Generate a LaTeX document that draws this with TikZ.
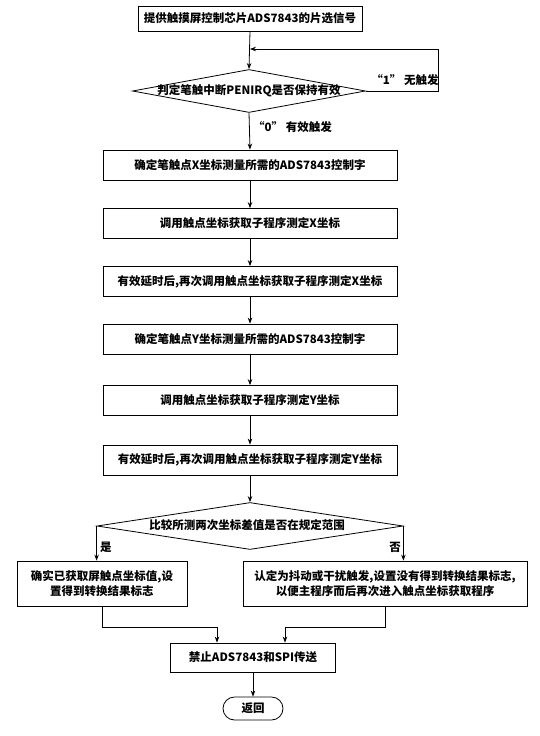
\documentclass[tikz,border=0pt]{standalone}
\usepackage{fontspec}
\newfontfamily\cjk{Noto Sans CJK SC}
\usetikzlibrary{shapes.geometric,arrows.meta}
\begin{document}
\begin{tikzpicture}[x=1pt,y=-1pt,
  every node/.style={font=\cjk\bfseries\fontsize{11.5}{15}\selectfont},
  box/.style={draw, line width=0.8pt, minimum width=294, minimum height=30, inner sep=0pt, align=center},
  dia/.style={draw, diamond, line width=0.8pt, inner sep=0pt},
  term/.style={draw, line width=0.8pt, rounded corners=11.5pt, minimum width=60, minimum height=23, inner sep=0pt},
  lbl/.style={inner sep=1pt},
  arr/.style={line width=0.8pt, -{Stealth[length=6pt,width=4.5pt]}},
  ln/.style={line width=0.8pt}]
\fill[white] (0,0) rectangle (539,736);
\useasboundingbox (0,0) rectangle (539,736);

\node[box, minimum width=224, minimum height=25] (b1) at (250,18.5) {提供触摸屏控制芯片ADS7843的片选信号};
\node[dia, minimum width=233, minimum height=43] (d1) at (249,91) {};
\node (d1t) at (d1.center) {判定笔触中断PENIRQ是否保持有效};
\node[box] (b2) at (250,165) {确定笔触点X坐标测量所需的ADS7843控制字};
\node[box] (b3) at (250,223.5) {调用触点坐标获取子程序测定X坐标};
\node[box] (b4) at (250,281.5) {有效延时后,再次调用触点坐标获取子程序测定X坐标};
\node[box] (b5) at (250,339) {确定笔触点Y坐标测量所需的ADS7843控制字};
\node[box] (b6) at (250,400.5) {调用触点坐标获取子程序测定Y坐标};
\node[box] (b7) at (250,460) {有效延时后,再次调用触点坐标获取子程序测定Y坐标};
\node[dia, minimum width=306, minimum height=47] (d2) at (250,526) {};
\node (d2t) at (247,525) {比较所测两次坐标差值是否在规定范围};
\node[box, minimum width=170, minimum height=45] (lb) at (102,583.5) {确实已获取屏触点坐标值,设\\置得到转换结果标志};
\node[box, minimum width=284, minimum height=45] (rb) at (385,583.5) {认定为抖动或干扰触发,设置没有得到转换结果标志,\\以便主程序而后再次进入触点坐标获取程序};
\node[box, minimum width=165, minimum height=29] (bb) at (253,657.5) {禁止ADS7843和SPI传送};
\node[term] (rt) at (253,708.5) {返回};

\coordinate (lp) at (438,49);
\coordinate (jl) at (217,627);
\coordinate (jr) at (285,627);

\draw[arr] (b1.south) -- (d1.north);
\draw[arr] (d1.east) -| (lp) -- (lp -| b1.south);
\node[lbl] (l1) at (405,80) {“1” 无触发};
\draw[arr] (d1.south) -- (b2.north);
\node[lbl, anchor=west] (l0) at (252,127) {“0” 有效触发};
\draw[arr] (b2.south) -- (b3.north);
\draw[arr] (b3.south) -- (b4.north);
\draw[arr] (b4.south) -- (b5.north);
\draw[arr] (b5.south) -- (b6.north);
\draw[arr] (b6.south) -- (b7.north);
\draw[arr] (b7.south) -- (d2.north);
\draw[arr] (d2.west) -- (d2.west |- lb.north);
\draw[arr] (d2.east) -- (d2.east |- rb.north);
\node[lbl, anchor=west] (ly) at (99,547) {是};
\node[lbl, anchor=east] (ln) at (402,547) {否};
\draw[arr] (lb.south) |- (jl) -- (jl |- bb.north);
\draw[arr] (rb.south) |- (jr) -- (jr |- bb.north);
\draw[arr] (bb.south) -- (rt.north);
\end{tikzpicture}
\end{document}
